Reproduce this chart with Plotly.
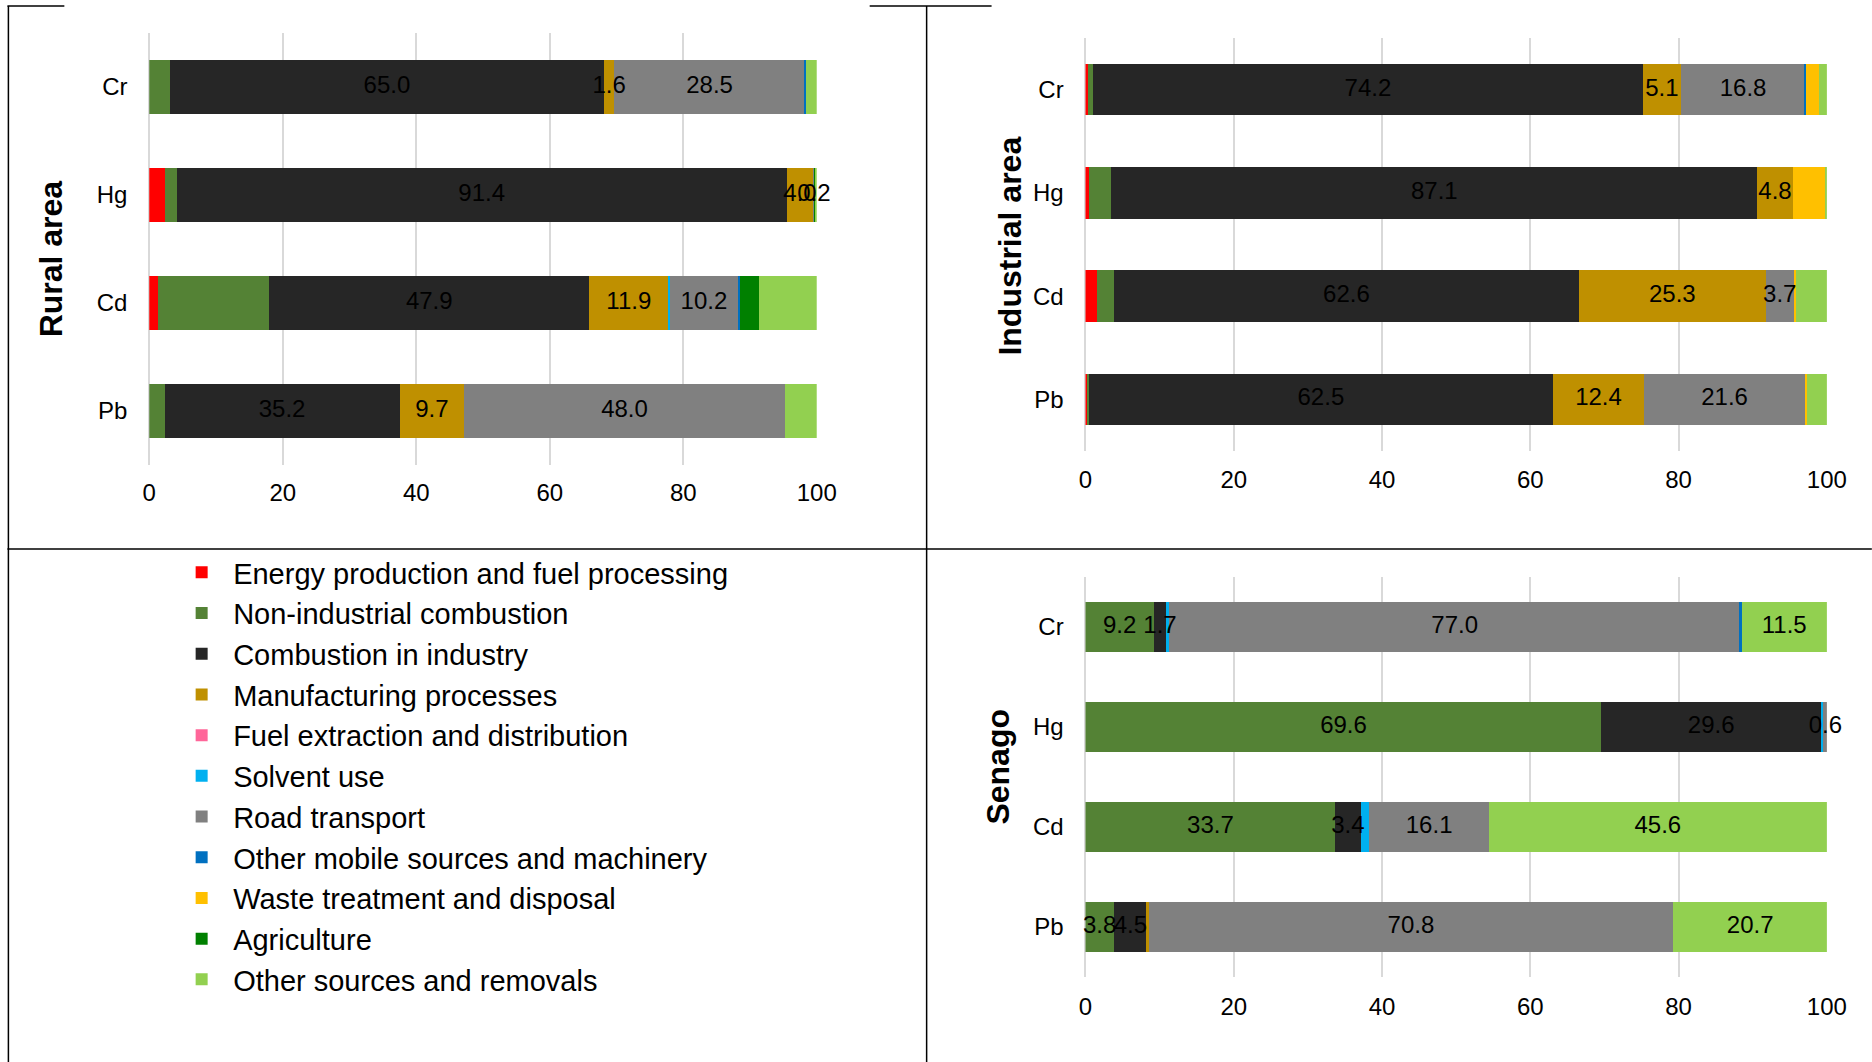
import plotly.graph_objects as go

# ---------------- data ----------------
metals = ["Cr", "Hg", "Cd", "Pb"]
sectors = [
    "Energy production and fuel processing",
    "Non-industrial combustion",
    "Combustion in industry",
    "Manufacturing processes",
    "Fuel extraction and distribution",
    "Solvent use",
    "Road transport",
    "Other mobile sources and machinery",
    "Waste treatment and disposal",
    "Agriculture",
    "Other sources and removals",
]
colors = ["#FF0000", "#548235", "#262626", "#BF9000", "#FF6699", "#00B0F0",
          "#808080", "#0070C0", "#FFC000", "#008000", "#92D050"]

# shares (%) per metal, in sector order
rural_Cr = [0, 3.1, 65.0, 1.6, 0, 0, 28.5, 0.2, 0, 0, 1.6]
rural_Hg = [2.3, 1.8, 91.4, 4.0, 0, 0, 0.2, 0, 0, 0.2, 0.1]
rural_Cd = [1.3, 16.7, 47.9, 11.9, 0, 0.2, 10.2, 0.3, 0, 2.8, 8.7]
rural_Pb = [0, 2.3, 35.2, 9.7, 0, 0, 48.0, 0, 0, 0, 4.8]

industrial_Cr = [0.3, 0.7, 74.2, 5.1, 0, 0, 16.8, 0.1, 1.7, 0, 1.1]
industrial_Hg = [0.5, 3.0, 87.1, 4.8, 0, 0, 0, 0, 4.5, 0, 0.1]
industrial_Cd = [1.5, 2.4, 62.6, 25.3, 0, 0, 3.7, 0, 0.3, 0, 4.2]
industrial_Pb = [0.2, 0.3, 62.5, 12.4, 0, 0, 21.6, 0, 0.3, 0, 2.7]

senago_Cr = [0, 9.2, 1.7, 0, 0, 0.4, 77.0, 0.2, 0, 0, 11.5]
senago_Hg = [0, 69.6, 29.6, 0, 0, 0.3, 0.6, 0, 0, 0, 0.5]
senago_Cd = [0, 33.7, 3.4, 0, 0, 1.2, 16.1, 0, 0, 0, 45.6]
senago_Pb = [0, 3.8, 4.5, 0.2, 0, 0, 70.8, 0, 0, 0, 20.7]

# which sectors carry data labels in each panel
rural_labelled = [2, 3, 6]
industrial_labelled = [2, 3, 6]
senago_labelled = [1, 2, 6, 10]

x_ticks = [0, 20, 40, 60, 80, 100]

panels = [
    ("Rural area", [rural_Cr, rural_Hg, rural_Cd, rural_Pb], rural_labelled, "x", "y"),
    ("Industrial area", [industrial_Cr, industrial_Hg, industrial_Cd, industrial_Pb], industrial_labelled, "x2", "y2"),
    ("Senago", [senago_Cr, senago_Hg, senago_Cd, senago_Pb], senago_labelled, "x3", "y3"),
]

W, H = 1872, 1062
FONT = "Liberation Sans, Arial, sans-serif"

# the page is photographed slightly narrowed; map target pixel x to figure pixel x
def sx(x):
    return (x - 5.6) / 0.9864

fig = go.Figure()

for p_i, (title, rows, labelled, xa, ya) in enumerate(panels):
    for s_i, sec in enumerate(sectors):
        fig.add_trace(go.Bar(
            y=metals, x=[r[s_i] for r in rows], orientation="h",
            name=sec, marker=dict(color=colors[s_i], line=dict(width=0)),
            xaxis=xa, yaxis=ya, showlegend=(p_i == 0), legendgroup=sec,
            hoverinfo="x+y+name",
        ))
    # data labels at the middle of each labelled segment
    lx, ly, lt = [], [], []
    for m, r in zip(metals, rows):
        cum = 0.0
        for s_i, v in enumerate(r):
            if s_i in labelled and v > 0:
                lx.append(cum + v / 2)
                ly.append(m)
                lt.append(f"{v:.1f}")
            cum += v
    fig.add_trace(go.Scatter(
        x=lx, y=ly, text=lt, mode="text", xaxis=xa, yaxis=ya,
        textfont=dict(family=FONT, size=24, color="#000000"),
        showlegend=False, hoverinfo="skip", cliponaxis=False,
    ))

def px_x(a, b):
    return [sx(a) / W, min(sx(b) / W, 1.0)]

def px_y(top, bottom):
    return [1 - bottom / H, 1 - top / H]

def x_axis(domain, anchor, ticklen):
    return dict(domain=domain, anchor=anchor, range=[0, 100], tickvals=x_ticks,
                showgrid=True, gridcolor="#D9D9D9", gridwidth=2,
                zeroline=True, zerolinecolor="#D9D9D9", zerolinewidth=2,
                showline=False, ticks="outside", tickcolor="rgba(0,0,0,0)", ticklen=ticklen,
                tickfont=dict(family=FONT, size=24, color="#000000"), fixedrange=True)

def y_axis(domain, anchor):
    return dict(domain=domain, anchor=anchor, autorange="reversed", showgrid=False,
                zeroline=False, showline=False, ticks="outside",
                tickcolor="rgba(0,0,0,0)", ticklen=16,
                tickfont=dict(family=FONT, size=24, color="#000000"), fixedrange=True)

fig.update_layout(
    width=W, height=H, autosize=False, margin=dict(l=0, r=0, t=0, b=0, pad=0),
    paper_bgcolor="white", plot_bgcolor="white",
    barmode="stack", bargap=0.5,
    font=dict(family=FONT, color="#000000"),
    xaxis=x_axis(px_x(148, 816), "y", 6),
    yaxis=y_axis(px_y(33, 465), "x"),
    xaxis2=x_axis(px_x(1085, 1827), "y2", 7),
    yaxis2=y_axis(px_y(38, 451), "x2"),
    xaxis3=x_axis(px_x(1085, 1827), "y3", 8),
    yaxis3=y_axis(px_y(577, 977), "x3"),
    legend=dict(x=(sx(233) - 65) / W, y=1 - 547 / H, xanchor="left", yanchor="top",
                font=dict(family=FONT, size=29, color="#000000"),
                itemwidth=53, bgcolor="rgba(0,0,0,0)",
                traceorder="normal", itemclick=False, itemdoubleclick=False),
)

# rotated panel titles
for text, cx, cy in [("Rural area", 50, 259), ("Industrial area", 1009, 246), ("Senago", 997, 767)]:
    fig.add_annotation(text=f"<b>{text}</b>", x=sx(cx) / W, y=1 - cy / H, xref="paper", yref="paper",
                       showarrow=False, textangle=-90, xanchor="center", yanchor="middle",
                       font=dict(family=FONT, size=32, color="#000000"))

# panel frame lines
def line(x0, y0, x1, y1):
    fig.add_shape(type="line", xref="paper", yref="paper",
                  x0=sx(x0) / W, y0=1 - y0 / H, x1=sx(x1) / W, y1=1 - y1 / H,
                  line=dict(color="#000000", width=1.5))

line(7, 6, 7, 1062)
line(926, 6, 926, 1062)
line(6, 549, 1872, 549)
line(6, 6, 63, 6)
line(869, 6, 991, 6)

fig.write_html("out.html", config={"responsive": False, "displayModeBar": False})
